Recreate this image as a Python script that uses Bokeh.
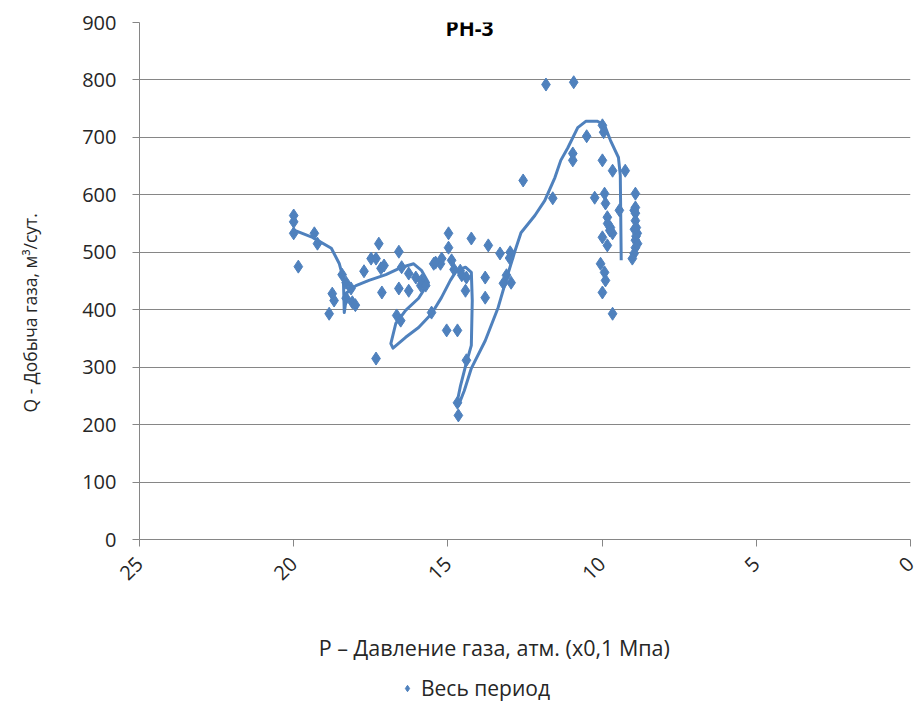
from bokeh.plotting import figure
from bokeh.layouts import column
from bokeh.models import Range1d, FixedTicker, Legend, LegendItem, Label
from bokeh.embed import file_html
from bokeh.resources import INLINE

title_text = "РН-3"
x_label = "P – Давление газа, атм. (х0,1 Мпа)"
y_label = "Q - Добыча газа, м³/сут."
series_name = "Весь период"

x_ticks = [0, 5, 10, 15, 20, 25]
y_ticks = [0, 100, 200, 300, 400, 500, 600, 700, 800, 900]

# scatter points: pressure P and production Q
pressure = [
    20.0, 20.0, 20.0, 19.33, 19.23, 19.85,
    18.85, 18.69, 18.75, 18.43, 18.3, 18.14, 18.1, 18.3, 18.0,
    17.24, 17.49, 17.33, 17.72, 17.17, 17.14, 17.33, 17.07,
    16.59, 16.5, 16.27, 16.04, 15.85, 16.59, 16.27, 15.88, 15.72, 16.66, 16.53, 15.53, 15.24, 15.46,
    14.98, 14.24, 13.69, 14.98, 13.31, 12.98, 15.4, 15.2, 14.88, 14.6, 14.4, 13.79, 14.43, 13.79,
    13.2, 12.95, 15.04, 14.69, 14.4, 14.69, 14.66, 14.8, 14.55, 13.0, 13.1,
    11.82, 10.92, 12.56, 11.6, 10.5, 10.95, 10.95, 9.99, 9.95, 9.99, 9.66, 9.25, 10.24, 9.92,
    9.89, 9.83, 9.73, 9.66, 9.99, 9.83, 10.05, 9.92, 9.89, 9.99, 9.66, 9.82, 9.75,
    8.92, 8.96, 8.92, 8.92, 8.92, 8.89, 8.86, 8.92, 8.92, 8.96, 9.02, 9.44, 8.85, 8.9, 8.95,
]
production = [
    564, 553, 533, 533, 515, 475,
    393, 416, 428, 461, 447, 437, 413, 420, 408,
    515, 489, 489, 467, 472, 430, 315, 477,
    501, 474, 463, 456, 451, 437, 433, 442, 442, 390, 381, 395, 480, 480,
    533, 524, 512, 508, 498, 500, 482, 489, 486, 468, 456, 456, 433, 421,
    446, 447, 364, 364, 312, 238, 216, 470, 460, 490, 460,
    792, 796, 625, 594, 702, 672, 660, 721, 709, 660, 642, 642, 595, 602,
    585, 561, 543, 533, 526, 512, 480, 465, 451, 430, 393, 550, 538,
    602, 573, 578, 568, 555, 543, 533, 521, 508, 498, 489, 573, 515, 528, 540,
]

# smoothed trend line (in time order)
trend_p = [
    19.97, 19.39, 18.78, 18.52, 18.39, 18.36, 18.27, 17.98, 17.56, 17.01,
    16.49, 16.11, 15.85, 15.63, 15.95, 16.37, 16.69, 16.85, 16.78, 16.37,
    15.95, 15.53, 15.21, 14.92, 14.72, 14.43, 14.24, 14.21, 14.24, 14.40,
    14.59, 14.69, 14.66, 14.47, 14.24, 13.79, 13.37, 13.05, 12.82, 12.63,
    12.18, 11.86, 11.53, 11.34, 11.11, 10.79, 10.53, 10.15, 9.92, 9.73,
    9.47, 9.41, 9.38,
]
trend_q = [
    538, 526, 507, 480, 454, 395, 430, 442, 451, 461,
    474, 480, 468, 447, 420, 399, 376, 341, 333, 352,
    369, 393, 421, 451, 468, 474, 465, 416, 338, 308,
    268, 242, 233, 259, 298, 346, 404, 463, 503, 534,
    564, 590, 630, 660, 682, 717, 728, 728, 721, 695,
    665, 634, 486,
]

BLUE = "#4F81BD"
GRID = "#868686"
FONT = "Open Sans"
TXT = "#262626"
NB = "\u00a0"

LEG_H = 30
MAIN_H = 703 - LEG_H
p = figure(width=919, height=MAIN_H, output_backend="svg", toolbar_location=None,
           x_range=Range1d(25, 0), y_range=Range1d(0, 900),
           min_border_left=139, min_border_right=9, min_border_top=22,
           min_border_bottom=MAIN_H - 539)
p.outline_line_color = None
p.xgrid.grid_line_color = None
p.ygrid.grid_line_color = GRID
p.ygrid.grid_line_width = 1

p.xaxis.ticker = FixedTicker(ticks=x_ticks)
p.yaxis.ticker = FixedTicker(ticks=y_ticks)
p.xaxis.minor_tick_line_color = None
p.yaxis.minor_tick_line_color = None
for ax in (p.xaxis[0], p.yaxis[0]):
    ax.axis_line_color = GRID
    ax.major_tick_line_color = GRID
    ax.major_tick_out = 7
    ax.major_tick_in = 0
    ax.major_label_text_font = FONT
    ax.major_label_text_font_size = "20px"
    ax.major_label_text_color = TXT
    ax.axis_label_text_font = FONT
    ax.axis_label_text_font_style = "normal"
    ax.axis_label_text_color = TXT

p.xaxis.major_label_orientation = 0.78
p.xaxis.major_label_standoff = 14
p.yaxis.major_label_standoff = 16

# trailing no-break spaces shift the centred axis titles like in the reference
p.xaxis.axis_label = x_label + NB * 11
p.xaxis.axis_label_text_font_size = "21.5px"
p.xaxis.axis_label_standoff = 43
p.yaxis.axis_label = y_label + NB * 14
p.yaxis.axis_label_text_font_size = "17.5px"
p.yaxis.axis_label_standoff = 37

p.line(trend_p, trend_q, line_color=BLUE, line_width=3, line_join="round")
p.scatter(pressure, production, marker="diamond", size=13, fill_color=BLUE,
          line_color=BLUE, line_width=1)

p.add_layout(Label(x=14.3, y=890, text=title_text, text_align="center", text_baseline="middle",
                   text_font=FONT, text_font_style="bold", text_font_size="21px",
                   text_color="#000000"))

# legend strip below the chart (its frame aligns with the chart frame)
p2 = figure(width=919, height=LEG_H, output_backend="svg", toolbar_location=None,
            x_range=Range1d(0, 1), y_range=Range1d(0, 1), x_axis_type=None, y_axis_type=None,
            min_border=0)
p2.outline_line_color = None
p2.grid.grid_line_color = None
sc2 = p2.scatter(pressure, production, marker="diamond", size=13, fill_color=BLUE,
                 line_color=BLUE, line_width=1)
legend = Legend(items=[LegendItem(label=series_name, renderers=[sc2])],
                location=(260, 0), border_line_color=None, background_fill_alpha=0,
                label_text_font=FONT, label_text_font_size="21px", label_text_color=TXT,
                glyph_width=16, glyph_height=LEG_H, label_height=LEG_H,
                label_standoff=6, padding=0, margin=0)
p2.add_layout(legend, "center")

open("out.html", "w").write(file_html(column(p, p2, spacing=0), INLINE))
